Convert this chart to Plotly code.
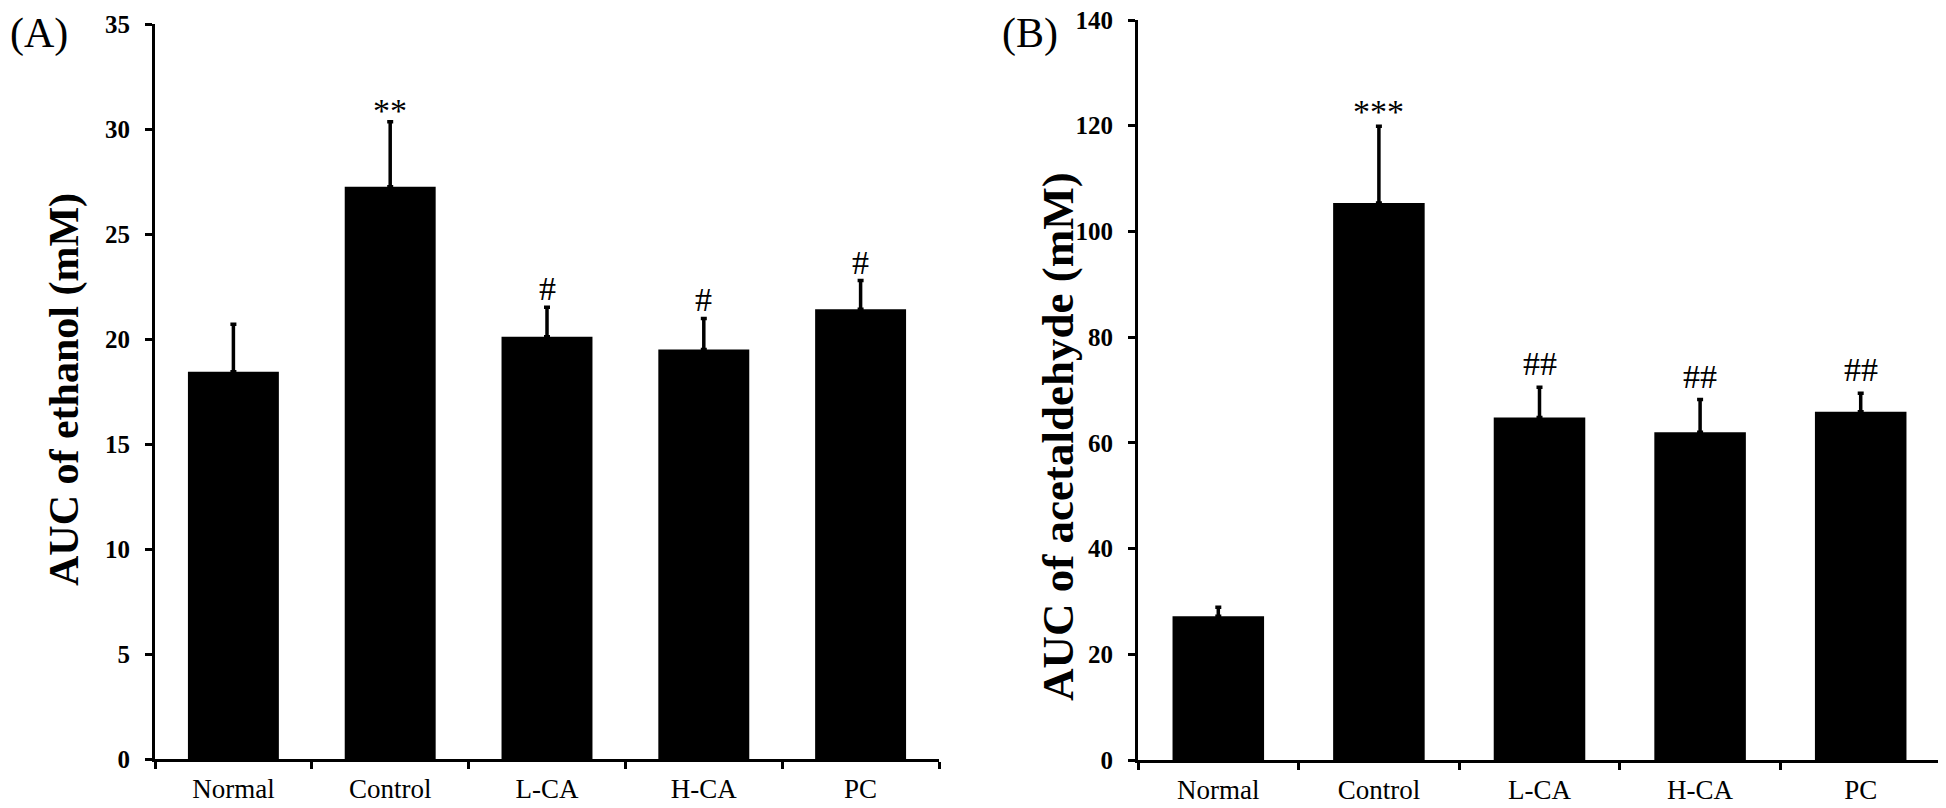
import plotly.graph_objects as go

categories = ["Normal", "Control", "L-CA", "H-CA", "PC"]

ethanol_mean = [18.44, 27.25, 20.11, 19.5, 21.42]
ethanol_err = [2.26, 3.10, 1.40, 1.48, 1.36]
ethanol_sig = ["", "**", "#", "#", "#"]

acet_mean = [27.2, 105.4, 64.8, 62.0, 65.9]
acet_err = [1.7, 14.5, 5.7, 6.2, 3.5]
acet_sig = ["", "***", "##", "##", "##"]

ethanol_ticks = [0, 5, 10, 15, 20, 25, 30, 35]
acet_ticks = [0, 20, 40, 60, 80, 100, 120, 140]

W, H = 1946, 808
OFF = 8  # page body margin offset
SERIF = "Liberation Serif, Times New Roman, serif"


def px(x):
    return (x - OFF) / W


def py(y):
    return 1 - (y - OFF) / H


fig = go.Figure()

fig.add_trace(go.Bar(
    x=categories, y=ethanol_mean, xaxis="x", yaxis="y",
    marker=dict(color="black", line=dict(color="black", width=0)),
    width=0.58,
    error_y=dict(type="data", symmetric=False, array=ethanol_err,
                 arrayminus=[0] * len(ethanol_err), color="black",
                 thickness=3.5, width=3),
    showlegend=False,
))
fig.add_trace(go.Bar(
    x=categories, y=acet_mean, xaxis="x2", yaxis="y2",
    marker=dict(color="black", line=dict(color="black", width=0)),
    width=0.57,
    error_y=dict(type="data", symmetric=False, array=acet_err,
                 arrayminus=[0] * len(acet_err), color="black",
                 thickness=3.5, width=3),
    showlegend=False,
))


def sig_annotation(c, y, s, xref, yref, star_shift, hash_shift):
    shift = star_shift if "*" in s else hash_shift
    return dict(x=c, y=y, xref=xref, yref=yref, text=s, showarrow=False,
                yanchor="bottom", yshift=shift,
                font=dict(family=SERIF, size=34, color="black"))


annotations = []
for c, m, e, s in zip(categories, ethanol_mean, ethanol_err, ethanol_sig):
    if s:
        annotations.append(sig_annotation(c, m + e, s, "x", "y", -9, -2))
for c, m, e, s in zip(categories, acet_mean, acet_err, acet_sig):
    if s:
        annotations.append(sig_annotation(c, m + e, s, "x2", "y2", -6, 3))

# panel letters
annotations.append(dict(x=0, y=1, xref="paper", yref="paper", text="(A)",
                        showarrow=False, xanchor="left", yanchor="top",
                        font=dict(family=SERIF, size=42, color="black")))
annotations.append(dict(x=px(1000), y=1, xref="paper", yref="paper", text="(B)",
                        showarrow=False, xanchor="left", yanchor="top",
                        font=dict(family=SERIF, size=42, color="black")))
# y titles
annotations.append(dict(x=px(64), y=py(390), xref="paper", yref="paper",
                        text="<b>AUC of ethanol (mM)</b>", textangle=-90,
                        showarrow=False, xanchor="center", yanchor="middle",
                        font=dict(family=SERIF, size=42, color="black")))
annotations.append(dict(x=px(1058), y=py(437), xref="paper", yref="paper",
                        text="<b>AUC of acetaldehyde (mM)</b>", textangle=-90,
                        showarrow=False, xanchor="center", yanchor="middle",
                        font=dict(family=SERIF, size=45, color="black")))

xcommon = dict(type="category", range=[-0.5, 4.5], showline=True, linecolor="black",
               linewidth=3, ticks="outside", tickson="boundaries", ticklen=7,
               tickwidth=3, tickcolor="black", showgrid=False, zeroline=False,
               automargin=False, ticklabeloverflow="allow",
               tickfont=dict(family=SERIF, size=27, color="black"), ticklabelstandoff=4)
ycommon = dict(showline=True, linecolor="black", linewidth=3, ticks="outside",
               ticklen=7, tickwidth=3, tickcolor="black", showgrid=False,
               zeroline=False, ticklabelstandoff=10, automargin=False,
               ticklabeloverflow="allow",
               tickfont=dict(family=SERIF, size=25, color="black", weight="bold"))

fig.update_layout(
    template="none",
    width=W, height=H,
    margin=dict(l=0, r=0, t=0, b=0, pad=0, autoexpand=False),
    paper_bgcolor="white", plot_bgcolor="white",
    xaxis=dict(domain=[px(155), px(939)], anchor="y", **xcommon),
    yaxis=dict(domain=[py(759), py(24)], anchor="x", range=[0, 35],
               tickvals=ethanol_ticks, **ycommon),
    xaxis2=dict(domain=[px(1138), px(1941)], anchor="y2", **xcommon),
    yaxis2=dict(domain=[py(760), py(20)], anchor="x2", range=[0, 140],
                tickvals=acet_ticks, **ycommon),
    annotations=annotations,
)

fig.write_html("out.html")
